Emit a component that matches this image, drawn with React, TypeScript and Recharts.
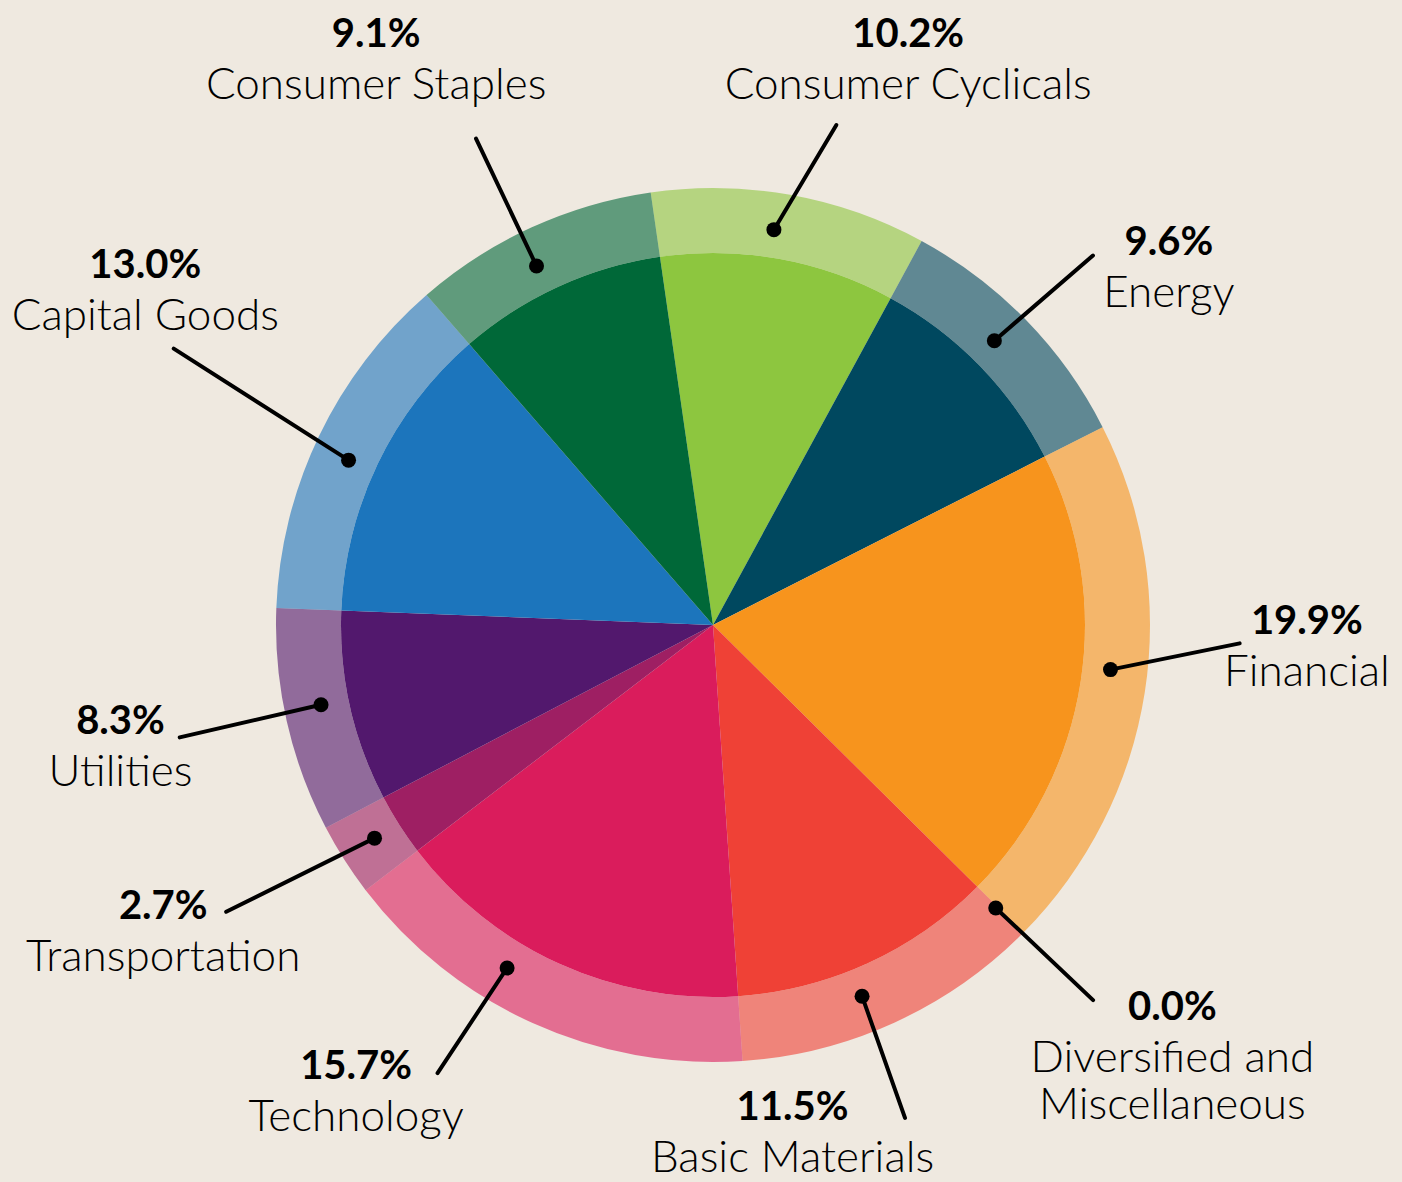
import React from 'react';
import { PieChart, Pie, Cell } from 'recharts';

// ---- data ----
const categories = [
  'Consumer Cyclicals',
  'Energy',
  'Financial',
  'Diversified and Miscellaneous',
  'Basic Materials',
  'Technology',
  'Transportation',
  'Utilities',
  'Capital Goods',
  'Consumer Staples',
];
const shares = [10.2, 9.6, 19.9, 0.0, 11.5, 15.7, 2.7, 8.3, 13.0, 9.1];

// ---- styles ----
const sliceColors = [
  '#8dc63f',
  '#00485f',
  '#f7941d',
  '#f26522',
  '#ef4136',
  '#da1c5c',
  '#9e1f63',
  '#52186d',
  '#1c75bc',
  '#006838',
];

// label placement: angle offsets (deg, clockwise) from each slice's middle, radii in px
const labelPlacement = [
  { dot: -1.4, end: 3.7, endR: 515, text: 8.6, textR: 607 },
  { dot: -1.1, end: 0.0, endR: 530, text: 5.4, textR: 585 },
  { dot: -2.5, end: -6.9, endR: 527, text: -7.7, textR: 594 },
  { dot: 0.3, end: -0.1, endR: 534, text: -3.8, textR: 608 },
  { dot: 2.7, end: 3.3, endR: 529, text: 15.5, textR: 504 },
  { dot: 6.6, end: 7.2, endR: 526, text: 13.6, textR: 580 },
  { dot: 0.3, end: 2.0, endR: 565, text: 4.1, textR: 625 },
  { dot: 1.2, end: 0.8, endR: 545, text: 2.0, textR: 603 },
  { dot: -1.3, end: 1.5, endR: 606, text: 5.6, textR: 664 },
  { dot: -1.6, end: -1.4, endR: 541, text: -5.8, textR: 666 },
];

const data = categories.map((name, i) => ({ name, value: shares[i] }));

const FONT = "Lato, 'Noto Sans', sans-serif";
const BG = '#efe9e0';
const W = 1402;
const H = 1182;
const CX = 713;
const CY = 625;
const INNER_R = 372;
const OUTER_R = 437;
const DOT_R = 400;

function wrapName(name: string, max = 18): string[] {
  const words = name.split(' ');
  const lines: string[] = [];
  let cur = '';
  for (const w of words) {
    const next = cur ? cur + ' ' + w : w;
    if (next.length > max && cur) {
      lines.push(cur);
      cur = w;
    } else {
      cur = next;
    }
  }
  if (cur) lines.push(cur);
  return lines;
}

const renderLabel = (props: any) => {
  const { cx, cy, midAngle, index, value, name } = props;
  const p = labelPlacement[index];
  const theta = 90 - midAngle; // clockwise from 12 o'clock
  const pt = (shift: number, r: number) => {
    const a = ((theta + shift) * Math.PI) / 180;
    return [cx + r * Math.sin(a), cy - r * Math.cos(a)];
  };
  const [dx, dy] = pt(p.dot, DOT_R);
  const [ex, ey] = pt(p.end, p.endR);
  const [tx, ty] = pt(p.text, p.textR);
  const lines = wrapName(name);
  return (
    <g key={`lbl-${index}`}>
      <line x1={dx} y1={dy} x2={ex} y2={ey} stroke="#000" strokeWidth={4} strokeLinecap="round" />
      <circle cx={dx} cy={dy} r={7.5} fill="#000" />
      <text
        x={tx}
        y={ty - 3}
        textAnchor="middle"
        fontFamily={FONT}
        fontWeight={700}
        fontSize={40}
        fill="#000"
      >
        {Number(value).toFixed(1) + '%'}
      </text>
      {lines.map((ln, j) => (
        <text
          key={j}
          x={tx}
          y={ty + 49 + 47 * j}
          textAnchor="middle"
          fontFamily={FONT}
          fontWeight={300}
          fontSize={44}
          fill="#000"
        >
          {ln}
        </text>
      ))}
    </g>
  );
};

export default function App() {
  return (
    <div
      style={{
        position: 'absolute',
        left: 0,
        top: 0,
        width: W,
        height: H,
        background: BG,
        overflow: 'hidden',
      }}
    >
      <PieChart width={W} height={H} margin={{ top: 0, right: 0, bottom: 0, left: 0 }}>
        <Pie
          data={data}
          dataKey="value"
          nameKey="name"
          cx={CX}
          cy={CY}
          innerRadius={INNER_R}
          outerRadius={OUTER_R}
          startAngle={98.2}
          endAngle={-261.8}
          stroke="none"
          isAnimationActive={false}
          labelLine={false}
          label={false}
        >
          {data.map((d, i) => (
            <Cell key={`ring-${i}`} fill={sliceColors[i]} fillOpacity={0.6} stroke="none" />
          ))}
        </Pie>
        <Pie
          data={data}
          dataKey="value"
          nameKey="name"
          cx={CX}
          cy={CY}
          innerRadius={0}
          outerRadius={INNER_R}
          startAngle={98.2}
          endAngle={-261.8}
          stroke="none"
          isAnimationActive={false}
          labelLine={false}
          label={renderLabel}
        >
          {data.map((d, i) => (
            <Cell key={`core-${i}`} fill={sliceColors[i]} stroke="none" />
          ))}
        </Pie>
      </PieChart>
    </div>
  );
}
